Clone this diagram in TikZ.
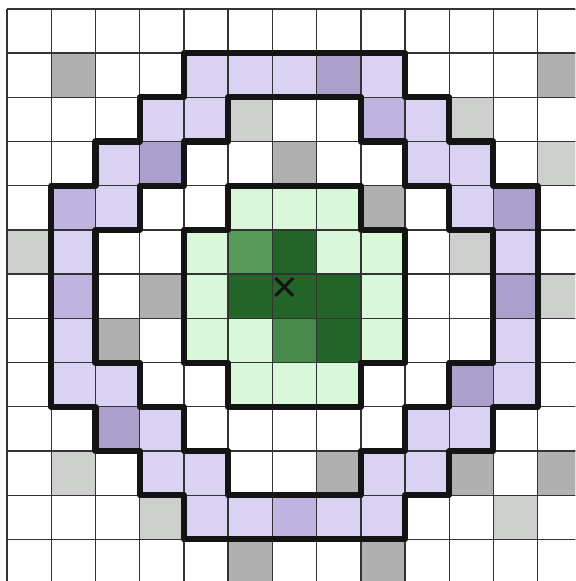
\documentclass[tikz,border=0pt]{standalone}
\usepackage{xcolor}
\usepackage{tikz}
\definecolor{ringlight}{HTML}{D9D2F2}
\definecolor{ringmid}{HTML}{BFB3E2}
\definecolor{ringdark}{HTML}{ABA0CC}
\definecolor{greylight}{HTML}{CDCFCD}
\definecolor{greydark}{HTML}{B0B0B0}
\definecolor{greenlight}{HTML}{D9F7D9}
\definecolor{greenmid}{HTML}{569A5A}
\definecolor{greenmidb}{HTML}{47894B}
\definecolor{greendark}{HTML}{236428}
\definecolor{edgeblack}{HTML}{141414}
\tikzset{
  gridline/.style={line width=0.9pt, black!80},
  border/.style={line width=3.9pt, edgeblack, line join=round}
}

\begin{document}
\begin{tikzpicture}[x=1cm, y=-1cm]
        \useasboundingbox (-0.16,-0.2) rectangle (12.85,12.94);
        \clip (-0.16,-0.2) rectangle (12.85,12.94);
        % ring cells
        \foreach \c/\r in {4/1,5/1,6/1,8/1, 3/2,4/2,9/2, 2/3,9/3,10/3,
            2/4,10/4, 1/5,11/5, 1/7,11/7, 1/8,2/8,11/8, 3/9,9/9,10/9,
            3/10,4/10,8/10,9/10, 4/11,5/11,7/11,8/11}
            \fill[ringlight] (\c,\r) rectangle ++(1,1);
        \foreach \c/\r in {8/2, 1/4, 1/6, 6/11}
            \fill[ringmid] (\c,\r) rectangle ++(1,1);
        \foreach \c/\r in {7/1, 3/3, 11/4, 11/6, 10/8, 2/9}
            \fill[ringdark] (\c,\r) rectangle ++(1,1);
        % grey cells
        \foreach \c/\r in {1/1,12/1,6/3,8/4,3/6,2/7,7/10,10/10,12/10,5/12,8/12}
            \fill[greydark] (\c,\r) rectangle ++(1,1);
        \foreach \c/\r in {5/2,10/2,12/3,0/5,10/5,12/6,1/10,3/11,11/11}
            \fill[greylight] (\c,\r) rectangle ++(1,1);
        % green cells
        \foreach \c/\r in {5/4,6/4,7/4, 4/5,7/5,8/5, 4/6,8/6,
            4/7,5/7,8/7, 5/8,6/8,7/8}
            \fill[greenlight] (\c,\r) rectangle ++(1,1);
        \fill[greenmid] (5,5) rectangle ++(1,1);
        \fill[greenmidb] (6,7) rectangle ++(1,1);
        \foreach \c/\r in {6/5, 5/6,6/6,7/6, 7/7}
            \fill[greendark] (\c,\r) rectangle ++(1,1);
        \draw[gridline] (0,0) grid (13,13);
        % outlines
        \draw[border] (4,1) -- (9,1) -- (9,2) -- (10,2) -- (10,3) -- (11,3)
            -- (11,4) -- (12,4) -- (12,9) -- (11,9) -- (11,10) -- (10,10)
            -- (10,11) -- (9,11) -- (9,12) -- (4,12) -- (4,11) -- (3,11)
            -- (3,10) -- (2,10) -- (2,9) -- (1,9) -- (1,4) -- (2,4) -- (2,3)
            -- (3,3) -- (3,2) -- (4,2) -- cycle;
        \draw[border] (5,2) -- (8,2) -- (8,3) -- (9,3) -- (9,4) -- (10,4)
            -- (10,5) -- (11,5) -- (11,8) -- (10,8) -- (10,9) -- (9,9)
            -- (9,10) -- (8,10) -- (8,11) -- (5,11) -- (5,10) -- (4,10)
            -- (4,9) -- (3,9) -- (3,8) -- (2,8) -- (2,5) -- (3,5) -- (3,4)
            -- (4,4) -- (4,3) -- (5,3) -- cycle;
        \draw[border] (5,4) -- (8,4) -- (8,5) -- (9,5) -- (9,8) -- (8,8)
            -- (8,9) -- (5,9) -- (5,8) -- (4,8) -- (4,5) -- (5,5) -- cycle;
        % centre mark
        \draw[line width=2pt, edgeblack] (6.07,6.09) -- (6.47,6.49)
            (6.07,6.49) -- (6.47,6.09);
\end{tikzpicture}
\end{document}
